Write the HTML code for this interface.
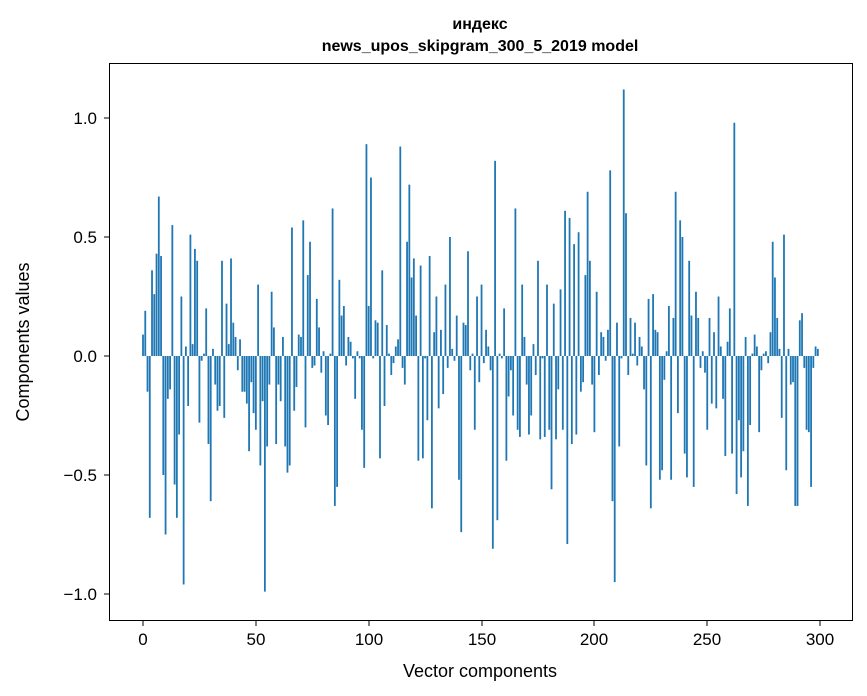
<!DOCTYPE html>
<html><head><meta charset="utf-8"><style>
html,body{margin:0;padding:0;background:#fff;}
svg{display:block;font-family:"Liberation Sans","DejaVu Sans",sans-serif;}
</style></head><body>
<svg id="s" width="867" height="696" viewBox="0 0 867 696" xmlns="http://www.w3.org/2000/svg">
<rect width="867" height="696" fill="#fff"/>
<text x="480" y="29" text-anchor="middle" font-size="16" font-weight="bold">индекс</text>
<text x="480" y="51" text-anchor="middle" font-size="16" font-weight="bold">news_upos_skipgram_300_5_2019 model</text>
<g id="bars" fill="#1f77b4"></g>
<rect x="109.5" y="63.5" width="743" height="557" fill="none" stroke="#000" stroke-width="1"/>
<g stroke="#000" stroke-width="1">
<line x1="143" y1="621" x2="143" y2="626"/><line x1="256" y1="621" x2="256" y2="626"/><line x1="369" y1="621" x2="369" y2="626"/><line x1="482" y1="621" x2="482" y2="626"/><line x1="594" y1="621" x2="594" y2="626"/><line x1="707" y1="621" x2="707" y2="626"/><line x1="820" y1="621" x2="820" y2="626"/>
<line x1="104" y1="118" x2="109" y2="118"/><line x1="104" y1="237" x2="109" y2="237"/><line x1="104" y1="356" x2="109" y2="356"/><line x1="104" y1="475" x2="109" y2="475"/><line x1="104" y1="594" x2="109" y2="594"/>
</g>
<g font-size="17" text-anchor="middle">
<text x="143" y="645">0</text><text x="256" y="645">50</text><text x="369" y="645">100</text><text x="482" y="645">150</text><text x="594" y="645">200</text><text x="707" y="645">250</text><text x="820" y="645">300</text>
</g>
<g font-size="17" text-anchor="end">
<text x="97" y="124">1.0</text><text x="97" y="243">0.5</text><text x="97" y="362">0.0</text><text x="97" y="481">−0.5</text><text x="97" y="600">−1.0</text>
</g>
<text x="480" y="677" text-anchor="middle" font-size="18">Vector components</text>
<text transform="translate(29,342) rotate(-90)" text-anchor="middle" font-size="18">Components values</text>
</svg>
<script>
var v=[0.09,0.19,-0.15,-0.68,0.36,0.26,0.43,0.67,0.42,-0.5,-0.75,-0.18,-0.14,0.55,-0.54,-0.68,-0.33,0.25,-0.96,0.04,-0.21,0.51,0.05,0.45,0.40,-0.28,-0.02,0.01,0.20,-0.37,-0.61,0.03,-0.12,-0.23,-0.21,0.40,-0.26,0.22,0.05,0.41,0.14,0.08,-0.06,0.07,-0.15,-0.15,-0.20,-0.40,-0.11,-0.24,-0.31,0.30,-0.46,-0.19,-0.99,-0.38,-0.12,0.27,0.12,-0.37,-0.12,-0.19,0.08,-0.38,-0.49,-0.46,0.54,-0.23,-0.13,0.09,0.08,0.57,-0.30,0.34,0.48,-0.05,-0.04,0.24,0.12,-0.07,0.02,-0.25,-0.29,0.01,0.62,-0.63,-0.55,0.32,0.17,0.21,-0.04,0.08,0.06,-0.01,-0.18,0.02,-0.01,-0.31,-0.47,0.89,0.21,0.75,-0.01,0.15,0.14,-0.43,0.36,-0.21,0.13,0.01,-0.08,-0.03,0.04,0.07,0.88,-0.05,-0.12,0.48,0.72,0.33,0.41,0.17,-0.44,0.38,-0.43,-0.01,-0.27,0.42,-0.64,0.10,0.25,-0.22,0.11,-0.16,0.30,-0.05,0.50,0.03,-0.02,0.17,-0.52,-0.74,0.14,0.13,0.44,-0.06,0.01,-0.31,0.25,-0.11,0.30,-0.03,0.11,0.04,-0.06,-0.81,0.82,-0.69,0.01,-0.01,0.20,-0.44,-0.17,-0.06,-0.25,0.62,-0.31,-0.34,0.30,0.08,-0.12,-0.33,-0.25,0.05,-0.08,0.40,-0.35,-0.01,-0.34,0.30,-0.31,-0.56,0.22,-0.35,-0.14,0.28,-0.31,0.61,-0.79,0.58,-0.37,0.47,-0.33,0.52,-0.15,-0.11,0.34,0.69,0.40,-0.12,-0.32,0.27,-0.08,0.10,0.08,-0.02,0.11,0.78,-0.61,-0.95,0.14,-0.38,-0.01,1.12,0.60,-0.08,0.16,0.01,0.14,-0.04,0.08,0.04,-0.14,-0.46,0.24,-0.64,0.26,0.11,0.10,-0.52,-0.48,-0.10,0.02,0.21,-0.52,0.16,0.69,-0.24,0.57,0.50,-0.41,-0.51,0.40,0.17,-0.55,0.27,0.16,-0.05,0.02,-0.07,-0.31,0.16,-0.20,0.10,-0.22,0.25,0.04,-0.18,-0.42,0.06,0.20,-0.41,0.98,-0.58,-0.27,-0.51,-0.40,0.08,-0.63,-0.29,0.01,0.09,0.04,-0.32,-0.06,0.01,0.02,-0.03,0.10,0.48,0.33,0.16,0.03,-0.26,0.51,-0.48,0.03,-0.12,-0.11,-0.63,-0.63,0.15,0.18,-0.05,-0.31,-0.32,-0.55,-0.05,0.04,0.03];
var g=document.getElementById('bars'),h='';
for(var i=0;i<v.length;i++){var x=143+2.257*i-0.9,y0=356,hh=v[i]*238;
var y=hh>0?y0-hh:y0;h+='<rect x="'+x.toFixed(2)+'" y="'+y.toFixed(2)+'" width="1.8" height="'+Math.abs(hh).toFixed(2)+'"/>';}
g.innerHTML=h;
</script>
</body></html>
